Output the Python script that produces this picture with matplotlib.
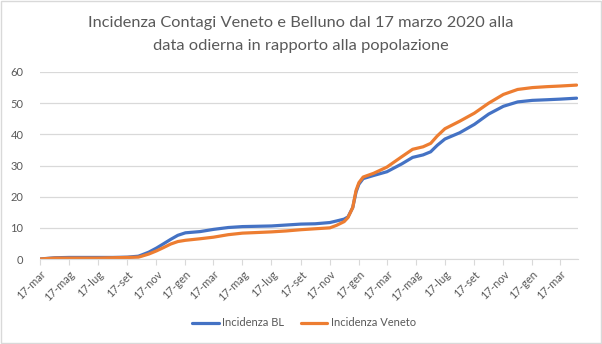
import datetime as dt
import matplotlib.pyplot as plt
from matplotlib.patches import Rectangle

plt.rcParams['font.family'] = ['Lato', 'DejaVu Sans']

# dates of the readings (day, month, year)
dates = [
    (17, 3, 2020), (17, 4, 2020), (17, 5, 2020), (17, 6, 2020), (17, 7, 2020),
    (17, 8, 2020), (17, 9, 2020), (10, 10, 2020), (17, 10, 2020), (1, 11, 2020),
    (17, 11, 2020), (1, 12, 2020), (17, 12, 2020), (1, 1, 2021), (17, 1, 2021),
    (17, 2, 2021), (17, 3, 2021), (17, 4, 2021), (17, 5, 2021), (17, 6, 2021),
    (17, 7, 2021), (17, 8, 2021), (17, 9, 2021), (17, 10, 2021), (17, 11, 2021),
    (1, 12, 2021), (17, 12, 2021), (25, 12, 2021), (4, 1, 2022), (11, 1, 2022),
    (17, 1, 2022), (26, 1, 2022), (17, 2, 2022), (17, 3, 2022), (17, 4, 2022),
    (10, 5, 2022), (1, 6, 2022), (17, 6, 2022), (1, 7, 2022), (17, 7, 2022),
    (17, 8, 2022), (17, 9, 2022), (17, 10, 2022), (17, 11, 2022), (17, 12, 2022),
    (17, 1, 2023), (17, 2, 2023), (17, 3, 2023), (20, 4, 2023),
]
bl = [
    0.0, 0.4, 0.5, 0.5, 0.5,
    0.5, 0.6, 0.9, 1.3, 2.2,
    3.5, 4.8, 6.3, 7.6, 8.4,
    8.8, 9.5, 10.1, 10.4, 10.5,
    10.6, 10.9, 11.2, 11.3, 11.7,
    12.2, 12.8, 13.5, 16.5, 21.5,
    24.0, 25.8, 26.8, 28.0, 30.5,
    32.6, 33.4, 34.4, 36.5, 38.5,
    40.5, 43.2, 46.5, 49.0, 50.4,
    50.9, 51.1, 51.3, 51.6,
]
veneto = [
    0.0, 0.3, 0.3, 0.3, 0.3,
    0.4, 0.5, 0.6, 0.9, 1.6,
    2.6, 3.6, 4.8, 5.6, 6.0,
    6.5, 7.0, 7.8, 8.3, 8.5,
    8.7, 9.0, 9.4, 9.7, 10.0,
    10.8, 12.0, 13.3, 16.5, 22.0,
    24.5, 26.3, 27.5, 29.5, 32.8,
    35.2, 36.0, 37.1, 39.5, 41.8,
    44.2, 46.8, 50.0, 52.8, 54.4,
    55.0, 55.3, 55.5, 55.8,
]
mesi = ['gen', 'feb', 'mar', 'apr', 'mag', 'giu', 'lug', 'ago', 'set', 'ott', 'nov', 'dic']
tick_dates = [dt.date(2020 + (m - 1) // 12, (m - 1) % 12 + 1, 17) for m in range(3, 40, 2)]

x = [dt.date(y, m, d) for d, m, y in dates]

fig = plt.figure(figsize=(6.02, 3.44), dpi=100)
ax = fig.add_axes([40 / 602, 1 - 259 / 344, 538 / 602, 187 / 344])

ax.plot(x, bl, color='#4472C4', lw=2.3, label='Incidenza BL', solid_capstyle='round')
ax.plot(x, veneto, color='#ED7D31', lw=2.3, label='Incidenza Veneto', solid_capstyle='round')

ax.set_xlim(dt.date(2020, 3, 17), dt.date(2023, 4, 23))
ax.set_ylim(0, 60)
ax.set_yticks(range(0, 61, 10))
ax.set_xticks(tick_dates)
ax.set_xticklabels(['17-' + mesi[d.month - 1] for d in tick_dates], rotation=45,
                   ha='right', rotation_mode='anchor', fontsize=8, color='#595959')
ax.tick_params(axis='y', length=0, pad=12, labelsize=8, labelcolor='#595959')
ax.tick_params(axis='x', length=4, color='#D9D9D9', pad=3)
ax.grid(axis='y', color='#D9D9D9', lw=0.9)
ax.set_axisbelow(True)
for s in ['top', 'right', 'left']:
    ax.spines[s].set_visible(False)
ax.spines['bottom'].set_color('#D9D9D9')

title_lines = ['Incidenza Contagi Veneto e Belluno dal 17 marzo 2020 alla',
               'data odierna in rapporto alla popolazione']
for i, line in enumerate(title_lines):
    fig.text(0.5, 1 - (23 + 23 * i) / 344, line, ha='center', va='center',
             fontsize=11.8, color='#595959')

fig.legend(loc='center', bbox_to_anchor=(0.505, 1 - 323 / 344), ncol=2, frameon=False,
           fontsize=8, labelcolor='#595959', handlelength=2.4, columnspacing=1.5,
           handletextpad=0.3)

fig.patches.append(Rectangle((0.001, 0.003), 0.997, 0.994, transform=fig.transFigure,
                             fill=False, edgecolor='#D9D9D9', lw=1))

fig.savefig('out.png', dpi=100)
